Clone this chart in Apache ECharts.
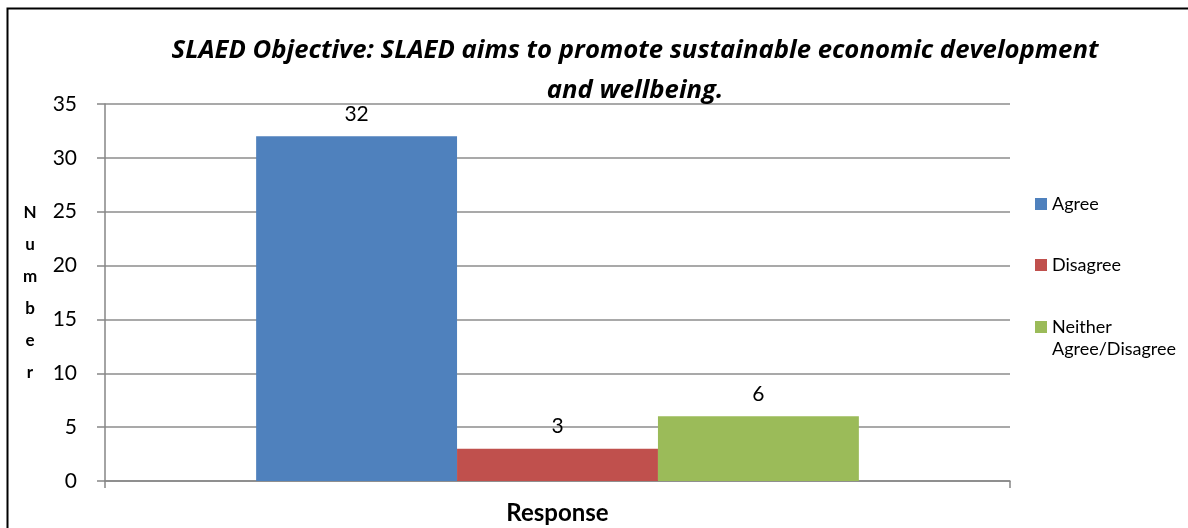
<!DOCTYPE html>
<html>
<head>
<meta charset="utf-8">
<script src="https://cdn.jsdelivr.net/npm/echarts@6/dist/echarts.min.js"></script>
<style>
html,body{margin:0;padding:0;background:#fff;overflow:hidden;}
#main{width:1188px;height:528px;}
</style>
</head>
<body>
<div id="main"></div>
<script>
var categories = ['Response'];
var seriesNames = ['Agree', 'Disagree', 'Neither Agree/Disagree'];
var agreeValues = [32];
var disagreeValues = [3];
var neitherValues = [6];
var yTicks = [0, 5, 10, 15, 20, 25, 30, 35];

var colors = ['#4F81BD', '#C0504D', '#9BBB59'];
var FONT = 'Lato, "Open Sans", sans-serif';
var TITLE_FONT = '"Open Sans", Lato, sans-serif';

var chart = echarts.init(document.getElementById('main'));

function barSeries(name, data, color) {
  return {
    name: name,
    type: 'bar',
    data: data,
    barGap: '0%',
    barCategoryGap: '33.4%',
    itemStyle: { color: color },
    label: {
      show: true,
      position: 'top',
      distance: 12,
      color: '#000',
      fontFamily: FONT,
      fontSize: 21
    }
  };
}

function legendFor(name, top, label) {
  return {
    orient: 'vertical',
    left: 1035,
    top: top,
    padding: 0,
    itemWidth: 12,
    itemHeight: 12,
    icon: 'rect',
    textStyle: { fontFamily: FONT, fontSize: 18, color: '#000', lineHeight: 22 },
    formatter: function () { return label; },
    data: [{ name: name }]
  };
}

chart.setOption({
  animation: false,
  color: colors,
  textStyle: { fontFamily: FONT },
  title: {
    text: 'SLAED Objective: SLAED aims to promote sustainable economic development\nand wellbeing.',
    left: 630,
    top: 26,
    textAlign: 'center',
    textStyle: {
      fontFamily: TITLE_FONT,
      fontSize: 25.7,
      fontWeight: 'bold',
      fontStyle: 'italic',
      color: '#000',
      lineHeight: 40
    }
  },
  graphic: [{
    type: 'rect',
    shape: { x: 7.5, y: 8.5, width: 1300, height: 650 },
    style: { fill: 'none', stroke: '#000', lineWidth: 2 },
    silent: true,
    z: 100
  }],
  legend: [
    legendFor(seriesNames[0], 193, 'Agree'),
    legendFor(seriesNames[1], 254, 'Disagree'),
    legendFor(seriesNames[2], 294, ' \nNeither\nAgree/Disagree')
  ],
  grid: { left: 105, right: 178, top: 104, bottom: 47, containLabel: false, outerBoundsMode: 'none' },
  xAxis: {
    type: 'category',
    data: categories,
    name: 'Response',
    nameLocation: 'middle',
    nameGap: 20,
    nameTextStyle: { fontFamily: FONT, fontSize: 24, fontWeight: 'bold', color: '#000' },
    axisLine: { lineStyle: { color: '#868686', width: 1.5 } },
    axisTick: { show: true, length: 7, lineStyle: { color: '#868686', width: 1.5 } },
    axisLabel: { show: false }
  },
  yAxis: {
    type: 'value',
    min: yTicks[0],
    max: yTicks[yTicks.length - 1],
    interval: 5,
    name: 'N\nu\nm\nb\ne\nr',
    nameLocation: 'middle',
    nameRotate: 0,
    nameGap: 75,
    nameTextStyle: { fontFamily: FONT, fontSize: 17, fontWeight: 'bold', color: '#000', lineHeight: 32, align: 'center' },
    axisLine: { show: true, lineStyle: { color: '#868686', width: 1.5 } },
    axisTick: { show: true, length: 8, lineStyle: { color: '#868686', width: 1.5 } },
    axisLabel: { margin: 28, fontFamily: FONT, fontSize: 21, color: '#000' },
    splitLine: { show: true, lineStyle: { color: '#8c8c8c', width: 1.5 } }
  },
  series: [
    barSeries(seriesNames[0], agreeValues, colors[0]),
    barSeries(seriesNames[1], disagreeValues, colors[1]),
    barSeries(seriesNames[2], neitherValues, colors[2])
  ]
});
</script>
</body>
</html>
